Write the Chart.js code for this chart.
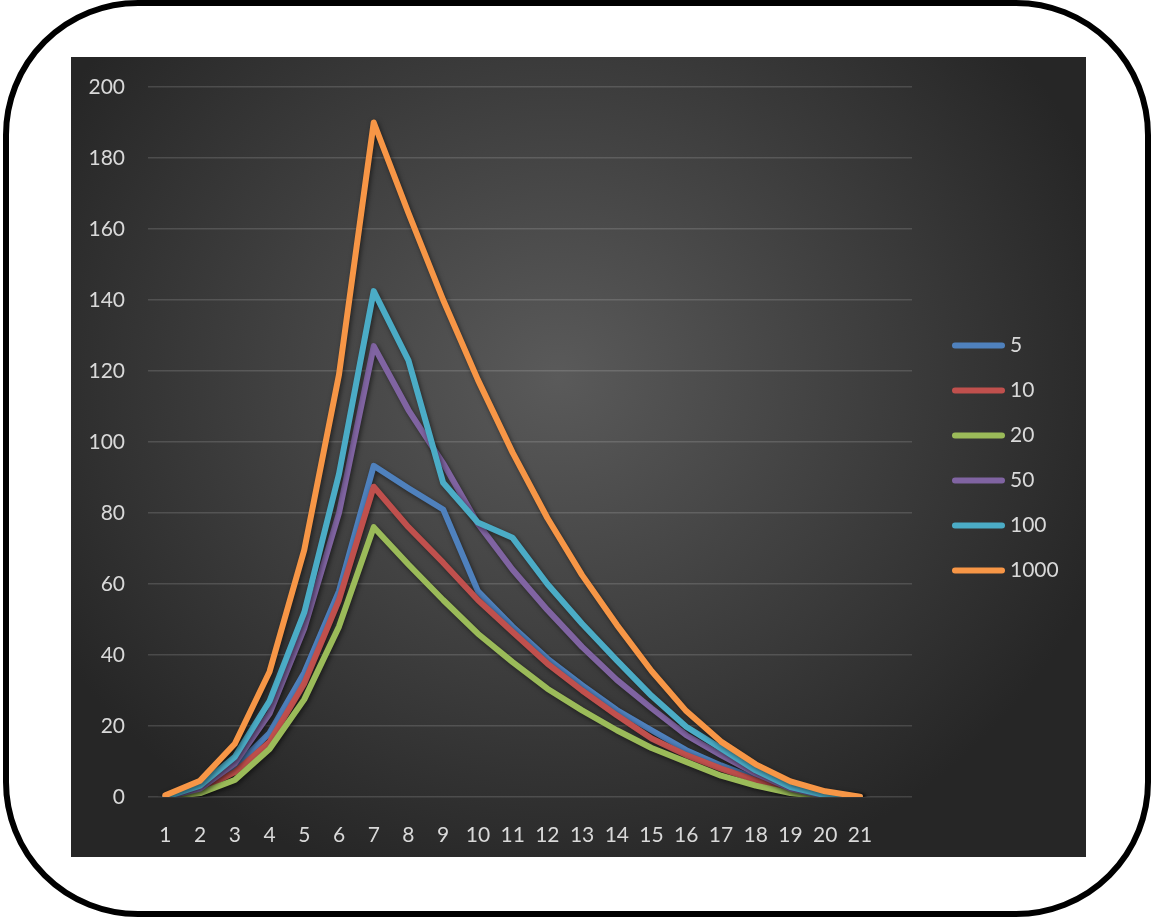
<!DOCTYPE html>
<html>
<head>
<meta charset="utf-8">
<script src="https://cdn.jsdelivr.net/npm/chart.js@4.4.0/dist/chart.umd.min.js"></script>
<style>
  html, body { margin: 0; padding: 0; background: #fff; width: 1153px; height: 919px; overflow: hidden; }
  #frame {
    position: absolute; left: 3px; top: 0; width: 1148px; height: 917px;
    box-sizing: border-box; border: 6px solid #000; border-radius: 135px;
  }
  #panel {
    position: absolute; left: 71px; top: 57px; width: 1015px; height: 800px;
    background: radial-gradient(ellipse at 48% 40%, #5a5a5a 0%, #262626 78%);
  }
</style>
</head>
<body>
<div id="frame"></div>
<div id="panel"><canvas id="myChart" width="1015" height="800"></canvas></div>
<script>
// x categories (1..21)
let categories = [1, 2, 3, 4, 5, 6, 7, 8, 9, 10, 11, 12, 13, 14, 15, 16, 17, 18, 19, 20, 21];

// series values
let s5    = [0, 2, 8.5, 18, 35, 58, 93.3, 87, 81, 58, 48, 39, 31.5, 24.5, 18.8, 13.2, 8.9, 5.2, 2, 0.3, 0];
let s10   = [0, 2, 7, 15.5, 32, 55.5, 87.4, 76, 66, 55.5, 46.5, 37.6, 30, 23, 16.5, 11.8, 8, 4.7, 1.7, 0.2, 0];
let s20   = [0, 1.1, 4.8, 13.5, 27.5, 48, 76, 65.5, 55.5, 46, 38, 30.5, 24.4, 18.8, 13.8, 9.9, 6, 3.2, 1.1, 0.1, 0];
let s50   = [0, 2.4, 9.5, 23.5, 47.5, 80, 127, 109, 94, 77, 64, 52.7, 42.3, 33, 25, 17.4, 11.8, 6.6, 2.4, 0.3, 0];
let s100  = [0, 3.2, 11.3, 27, 52, 91, 142.5, 123, 88.5, 77.3, 73, 60, 48.8, 38.5, 28.5, 19.8, 13.7, 7.5, 2.8, 0.5, 0];
let s1000 = [0.5, 4.6, 15, 35.3, 69.6, 119, 190, 164.5, 140, 117.5, 97, 78.6, 62.5, 48.5, 35.5, 24.2, 15.6, 9.2, 4.4, 1.6, 0.1];

let seriesNames = ['5', '10', '20', '50', '100', '1000'];
let seriesData = [s5, s10, s20, s50, s100, s1000];
let colors = ['#4F81BD', '#C0504D', '#9BBB59', '#8064A2', '#4BACC6', '#F79646'];

let yTicks = [0, 20, 40, 60, 80, 100, 120, 140, 160, 180, 200];

let textColor = '#d9d9d9';
let fontFamily = 'Lato, "Open Sans", sans-serif';
let fontSize = 21;

// soft shadow under each line
let shadowPlugin = {
  id: 'lineShadow',
  beforeDatasetDraw(chart) {
    let c = chart.ctx;
    c.save();
    c.shadowColor = 'rgba(0, 0, 0, 0.55)';
    c.shadowBlur = 5;
    c.shadowOffsetX = 1.5;
    c.shadowOffsetY = 2;
  },
  afterDatasetDraw(chart) {
    chart.ctx.restore();
  }
};

// legend on the right, line swatch + label
let sideLegend = {
  id: 'sideLegend',
  afterDraw(chart) {
    let c = chart.ctx;
    let area = chart.chartArea;
    let sets = chart.data.datasets;
    let gap = 45;
    let y = chart.height / 2 + 1 - gap * (sets.length - 1) / 2;
    let x0 = area.right + 43;
    c.save();
    sets.forEach(ds => {
      c.strokeStyle = ds.borderColor;
      c.lineWidth = 6;
      c.lineCap = 'round';
      c.beginPath();
      c.moveTo(x0, y);
      c.lineTo(x0 + 47, y);
      c.stroke();
      c.fillStyle = textColor;
      c.font = fontSize + 'px ' + fontFamily;
      c.textBaseline = 'middle';
      c.textAlign = 'left';
      c.fillText(ds.label, x0 + 55, y);
      y += gap;
    });
    c.restore();
  }
};

let datasets = seriesData.map((vals, i) => ({
  label: seriesNames[i],
  data: vals.map((v, j) => ({ x: categories[j], y: v })),
  borderColor: colors[i],
  backgroundColor: colors[i],
  borderWidth: 6,
  borderCapStyle: 'round',
  borderJoinStyle: 'round',
  pointRadius: 0,
  tension: 0,
  fill: false,
  order: seriesData.length - i
}));

let myChart = document.getElementById('myChart').getContext('2d');

let chart = new Chart(myChart, {
  type: 'line',
  data: { datasets: datasets },
  plugins: [shadowPlugin, sideLegend],
  options: {
    responsive: false,
    animation: false,
    layout: { padding: { top: 30, right: 174, left: 0, bottom: 0 } },
    plugins: {
      legend: { display: false },
      tooltip: { enabled: false }
    },
    scales: {
      x: {
        type: 'linear',
        min: 0.5,
        max: 22.5,
        afterBuildTicks: s => { s.ticks = categories.map(v => ({ value: v })); },
        afterFit: s => { s.height = 60; s.paddingLeft = 0; s.paddingRight = 0; },
        grid: { display: false },
        border: { display: false },
        ticks: {
          color: textColor,
          font: { family: fontFamily, size: fontSize },
          padding: 18,
          maxRotation: 0,
          autoSkip: false
        }
      },
      y: {
        min: 0,
        max: 200,
        afterBuildTicks: s => { s.ticks = yTicks.map(v => ({ value: v })); },
        afterFit: s => { s.width = 77; s.paddingTop = 0; s.paddingBottom = 0; },
        grid: { color: 'rgba(255, 255, 255, 0.14)', lineWidth: 1.5, drawTicks: false },
        border: { display: false },
        ticks: {
          color: textColor,
          font: { family: fontFamily, size: fontSize },
          padding: 23
        }
      }
    }
  }
});
</script>
</body>
</html>
